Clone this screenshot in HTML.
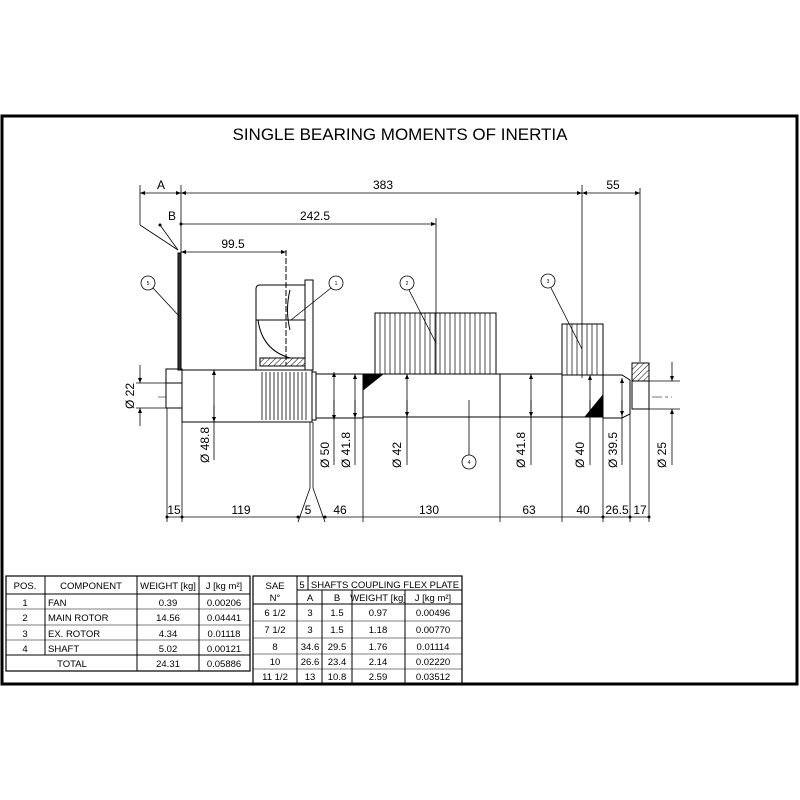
<!DOCTYPE html>
<html><head><meta charset="utf-8"><style>
html,body{margin:0;padding:0;background:#fff}
svg{display:block}
text{font-family:"Liberation Sans","DejaVu Sans",sans-serif;fill:#000}
</style></head><body>
<svg width="800" height="800" viewBox="0 0 800 800" xmlns="http://www.w3.org/2000/svg">
<defs>
<marker id="ar" viewBox="0 0 10 10" refX="10" refY="5" markerWidth="8" markerHeight="5" orient="auto-start-reverse" markerUnits="userSpaceOnUse"><path d="M0,1 L10,5 L0,9z" fill="#000"/></marker>
<pattern id="hat" width="4" height="4" patternUnits="userSpaceOnUse" patternTransform="rotate(45)"><line x1="0" y1="0" x2="0" y2="4" stroke="#000" stroke-width="1"/></pattern>
</defs>
<rect x="2" y="116" width="795" height="568" fill="none" stroke="#000" stroke-width="3"/>
<text x="400" y="140" font-size="17" text-anchor="middle">SINGLE BEARING MOMENTS OF INERTIA</text>

<g stroke="#000" fill="none" stroke-width="1">
<line x1="158" y1="397" x2="672" y2="397" stroke="#777" stroke-dasharray="10,3,3,3"/>
<rect x="166" y="383" width="16" height="25" fill="#fff"/>
<rect x="166" y="369" width="16" height="14" fill="#fff"/>
<rect x="178" y="253" width="3" height="117" fill="#333"/>
<rect x="182" y="370" width="130" height="52" fill="#fff"/>
<g stroke-width="0.8">
<line x1="262" y1="372" x2="262" y2="420"/><line x1="266" y1="372" x2="266" y2="420"/><line x1="270" y1="372" x2="270" y2="420"/><line x1="274" y1="372" x2="274" y2="420"/><line x1="278" y1="372" x2="278" y2="420"/><line x1="282" y1="372" x2="282" y2="420"/><line x1="286" y1="372" x2="286" y2="420"/><line x1="290" y1="372" x2="290" y2="420"/><line x1="294" y1="372" x2="294" y2="420"/><line x1="298" y1="372" x2="298" y2="420"/><line x1="302" y1="372" x2="302" y2="420"/><line x1="306" y1="372" x2="306" y2="420"/>
</g>
<path d="M260,285 L305,285 L305,370 L256,370 L256,289 Q256,285 260,285 Z" fill="#fff"/>
<rect x="305" y="280" width="8" height="90" fill="#fff"/>
<line x1="256" y1="320" x2="305" y2="320"/>
<path d="M258,320 Q262,350 290,358 L305,358" />
<path d="M290,290 Q285,310 290,330"/>
<rect x="260" y="358" width="45" height="8" fill="url(#hat)"/>
<line x1="286" y1="250" x2="286" y2="365" stroke-dasharray="6,2"/>
<rect x="312" y="372" width="4" height="48" fill="#fff"/>
<rect x="316" y="374" width="47" height="44" fill="#fff"/>
<rect x="363" y="374" width="137" height="43" fill="#fff"/>
<path d="M363,374 L383,374 L363,390Z" fill="#000"/>
<rect x="375" y="313" width="121" height="61" fill="#fff"/>
<g stroke-width="0.7">
<line x1="380" y1="313" x2="380" y2="374"/><line x1="385" y1="313" x2="385" y2="374"/><line x1="390" y1="313" x2="390" y2="374"/><line x1="395" y1="313" x2="395" y2="374"/><line x1="400" y1="313" x2="400" y2="374"/><line x1="405" y1="313" x2="405" y2="374"/><line x1="410" y1="313" x2="410" y2="374"/><line x1="415" y1="313" x2="415" y2="374"/><line x1="420" y1="313" x2="420" y2="374"/><line x1="425" y1="313" x2="425" y2="374"/><line x1="430" y1="313" x2="430" y2="374"/><line x1="435" y1="313" x2="435" y2="374"/><line x1="440" y1="313" x2="440" y2="374"/><line x1="445" y1="313" x2="445" y2="374"/><line x1="450" y1="313" x2="450" y2="374"/><line x1="455" y1="313" x2="455" y2="374"/><line x1="460" y1="313" x2="460" y2="374"/><line x1="465" y1="313" x2="465" y2="374"/><line x1="470" y1="313" x2="470" y2="374"/><line x1="475" y1="313" x2="475" y2="374"/><line x1="480" y1="313" x2="480" y2="374"/><line x1="485" y1="313" x2="485" y2="374"/><line x1="490" y1="313" x2="490" y2="374"/>
</g>
<rect x="500" y="374" width="62" height="43" fill="#fff"/>
<rect x="562" y="375" width="41" height="42" fill="#fff"/>
<path d="M603,395 L603,417 L585,417Z" fill="#000"/>
<rect x="562" y="324" width="41" height="51" fill="#fff"/>
<g stroke-width="0.7"><line x1="567" y1="324" x2="567" y2="375"/><line x1="572" y1="324" x2="572" y2="375"/><line x1="577" y1="324" x2="577" y2="375"/><line x1="587" y1="324" x2="587" y2="375"/><line x1="592" y1="324" x2="592" y2="375"/><line x1="597" y1="324" x2="597" y2="375"/></g>
<path d="M603,375 L622,375 L630,380 L630,414 L622,418 L603,418Z" fill="#fff"/>
<rect x="632" y="363" width="17" height="18" fill="url(#hat)"/>
<rect x="632" y="363" width="17" height="18"/>
<rect x="632" y="381" width="17" height="28" fill="#fff"/>
<line x1="181" y1="185" x2="181" y2="253" stroke-width="0.8"/>
<line x1="140" y1="185" x2="140" y2="225" stroke-width="0.8"/>
<line x1="140" y1="225" x2="178" y2="250" stroke-width="0.8"/>
<line x1="160" y1="225" x2="178" y2="250" stroke-width="0.8"/>
<line x1="436" y1="218" x2="436" y2="374" stroke-width="0.8"/>
<line x1="582" y1="185" x2="582" y2="378" stroke-width="0.8"/>
<line x1="640" y1="188" x2="640" y2="362" stroke-width="0.8"/>
<line x1="140" y1="193" x2="181" y2="193" marker-start="url(#ar)" marker-end="url(#ar)" stroke-width="0.8"/>
<line x1="181" y1="193" x2="582" y2="193" marker-start="url(#ar)" marker-end="url(#ar)" stroke-width="0.8"/>
<line x1="582" y1="193" x2="640" y2="193" marker-start="url(#ar)" marker-end="url(#ar)" stroke-width="0.8"/>
<line x1="181" y1="224" x2="436" y2="224" marker-end="url(#ar)" stroke-width="0.8"/>
<line x1="181" y1="252" x2="286" y2="252" marker-start="url(#ar)" marker-end="url(#ar)" stroke-width="0.8"/>
<g stroke-width="0.8">
<circle cx="148" cy="283" r="7" fill="#fff"/><line x1="153" y1="288" x2="179" y2="316"/>
<circle cx="336" cy="283" r="7" fill="#fff"/><line x1="331" y1="288" x2="291" y2="320"/>
<circle cx="407" cy="283" r="7" fill="#fff"/><line x1="409" y1="290" x2="436" y2="343"/>
<circle cx="548" cy="281" r="7" fill="#fff"/><line x1="551" y1="288" x2="582" y2="349"/>
<circle cx="469" cy="462" r="7" fill="#fff"/><line x1="469" y1="455" x2="469" y2="400"/>
</g>
<g stroke-width="0.8">
<line x1="136" y1="383" x2="170" y2="383"/><line x1="136" y1="408" x2="170" y2="408"/>
<line x1="140" y1="365" x2="140" y2="383" marker-end="url(#ar)"/><line x1="140" y1="426" x2="140" y2="408" marker-end="url(#ar)"/>
<line x1="214" y1="370" x2="214" y2="460" marker-start="url(#ar)"/><line x1="214" y1="405" x2="214" y2="422" marker-end="url(#ar)"/>
<line x1="334" y1="372" x2="334" y2="465" marker-start="url(#ar)"/><line x1="334" y1="400" x2="334" y2="420" marker-end="url(#ar)"/>
<line x1="355" y1="374" x2="355" y2="465" marker-start="url(#ar)"/><line x1="355" y1="400" x2="355" y2="418" marker-end="url(#ar)"/>
<line x1="407" y1="374" x2="407" y2="465" marker-start="url(#ar)"/><line x1="407" y1="400" x2="407" y2="417" marker-end="url(#ar)"/>
<line x1="531" y1="374" x2="531" y2="465" marker-start="url(#ar)"/><line x1="531" y1="400" x2="531" y2="417" marker-end="url(#ar)"/>
<line x1="590" y1="375" x2="590" y2="465" marker-start="url(#ar)"/><line x1="590" y1="400" x2="590" y2="417" marker-end="url(#ar)"/>
<line x1="622" y1="378" x2="622" y2="465" marker-start="url(#ar)"/><line x1="622" y1="400" x2="622" y2="416" marker-end="url(#ar)"/>
<line x1="648" y1="381" x2="680" y2="381"/><line x1="648" y1="409" x2="680" y2="409"/>
<line x1="672" y1="362" x2="672" y2="381" marker-end="url(#ar)"/><line x1="672" y1="465" x2="672" y2="409" marker-end="url(#ar)"/>
</g>
<g stroke-width="0.8">
<line x1="167" y1="408" x2="167" y2="522"/><line x1="182" y1="422" x2="182" y2="522"/>
<line x1="310" y1="422" x2="310" y2="488"/><line x1="313" y1="422" x2="313" y2="488"/>
<line x1="310" y1="488" x2="298" y2="522"/><line x1="313" y1="488" x2="325" y2="522"/>
<line x1="363" y1="418" x2="363" y2="522"/><line x1="500" y1="417" x2="500" y2="522"/>
<line x1="562" y1="417" x2="562" y2="522"/><line x1="603" y1="418" x2="603" y2="522"/>
<line x1="630" y1="414" x2="630" y2="522"/><line x1="649" y1="409" x2="649" y2="522"/>
<line x1="167" y1="517" x2="649" y2="517"/>
</g>
</g>
<g fill="#000">
<circle cx="167" cy="517" r="1.5"/><circle cx="182" cy="517" r="1.5"/><circle cx="298" cy="517" r="1.5"/><circle cx="325" cy="517" r="1.5"/><circle cx="603" cy="517" r="1.5"/><circle cx="630" cy="517" r="1.5"/><circle cx="649" cy="517" r="1.5"/>
<circle cx="160" cy="225" r="1.5"/><circle cx="181" cy="224" r="1.5"/>
</g>
<g font-size="12">
<text x="161" y="189" text-anchor="middle">A</text>
<text x="383" y="189" text-anchor="middle">383</text>
<text x="613" y="189" text-anchor="middle">55</text>
<text x="172" y="220" text-anchor="middle">B</text>
<text x="315" y="220" text-anchor="middle">242.5</text>
<text x="233" y="248" text-anchor="middle">99.5</text>
<text x="174" y="514" text-anchor="middle">15</text>
<text x="241" y="514" text-anchor="middle">119</text>
<text x="308" y="514" text-anchor="middle">5</text>
<text x="340" y="514" text-anchor="middle">46</text>
<text x="429" y="514" text-anchor="middle">130</text>
<text x="529" y="514" text-anchor="middle">63</text>
<text x="583" y="514" text-anchor="middle">40</text>
<text x="617" y="514" text-anchor="middle">26.5</text>
<text x="640" y="514" text-anchor="middle">17</text>
<text transform="translate(134,396) rotate(-90)" text-anchor="middle">Ø 22</text>
<text transform="translate(209,445) rotate(-90)" text-anchor="middle">Ø 48.8</text>
<text transform="translate(329,455) rotate(-90)" text-anchor="middle">Ø 50</text>
<text transform="translate(350,450) rotate(-90)" text-anchor="middle">Ø 41.8</text>
<text transform="translate(401,455) rotate(-90)" text-anchor="middle">Ø 42</text>
<text transform="translate(525,450) rotate(-90)" text-anchor="middle">Ø 41.8</text>
<text transform="translate(584,455) rotate(-90)" text-anchor="middle">Ø 40</text>
<text transform="translate(617,450) rotate(-90)" text-anchor="middle">Ø 39.5</text>
<text transform="translate(666,455) rotate(-90)" text-anchor="middle">Ø 25</text>
</g>
<g font-size="5" text-anchor="middle">
<text x="148" y="285">5</text><text x="336" y="285">1</text><text x="407" y="285">2</text><text x="548" y="283">3</text><text x="469" y="464">4</text>
</g>
<g stroke="#000" fill="none">
<rect x="6" y="576" width="244" height="95" stroke-width="1.2"/>
<line x1="6" y1="594" x2="250" y2="594"/><line x1="6" y1="609" x2="250" y2="609" stroke-width="0.6"/><line x1="6" y1="625" x2="250" y2="625" stroke-width="0.6"/><line x1="6" y1="640" x2="250" y2="640" stroke-width="0.6"/><line x1="6" y1="655" x2="250" y2="655"/>
<line x1="45" y1="576" x2="45" y2="655"/><line x1="137" y1="576" x2="137" y2="671"/><line x1="199" y1="576" x2="199" y2="671"/>
<rect x="253" y="576" width="209" height="108" stroke-width="1.2"/>
<line x1="297" y1="576" x2="297" y2="684"/><line x1="308" y1="576" x2="308" y2="590"/>
<line x1="297" y1="590" x2="462" y2="590"/><line x1="253" y1="604" x2="462" y2="604"/>
<line x1="253" y1="621" x2="462" y2="621" stroke-width="0.6"/><line x1="253" y1="638" x2="462" y2="638" stroke-width="0.6"/><line x1="253" y1="654" x2="462" y2="654" stroke-width="0.6"/><line x1="253" y1="669" x2="462" y2="669" stroke-width="0.6"/>
<line x1="322" y1="590" x2="322" y2="684"/><line x1="352" y1="590" x2="352" y2="684"/><line x1="405" y1="590" x2="405" y2="684"/>
</g>
<g font-size="9.5" text-anchor="middle">
<text x="25" y="589">POS.</text><text x="91" y="589">COMPONENT</text><text x="168" y="589">WEIGHT [kg]</text><text x="224" y="589">J [kg m²]</text>
<text x="25" y="606">1</text><text x="25" y="621">2</text><text x="25" y="637">3</text><text x="25" y="652">4</text>
<text x="168" y="606">0.39</text><text x="168" y="621">14.56</text><text x="168" y="637">4.34</text><text x="168" y="652">5.02</text><text x="168" y="667">24.31</text>
<text x="224" y="606">0.00206</text><text x="224" y="621">0.04441</text><text x="224" y="637">0.01118</text><text x="224" y="652">0.00121</text><text x="224" y="667">0.05886</text>
<text x="72" y="667">TOTAL</text>
<text x="275" y="589">SAE</text><text x="275" y="601">N°</text>
<text x="302" y="588">5</text><text x="385" y="588">SHAFTS COUPLING FLEX PLATE</text>
<text x="310" y="601">A</text><text x="337" y="601">B</text><text x="378" y="601">WEIGHT [kg]</text><text x="433" y="601">J [kg m²]</text>
<text x="275" y="616">6 1/2</text><text x="275" y="633">7 1/2</text><text x="275" y="650">8</text><text x="275" y="665">10</text><text x="275" y="680">11 1/2</text>
<text x="310" y="616">3</text><text x="310" y="633">3</text><text x="310" y="650">34.6</text><text x="310" y="665">26.6</text><text x="310" y="680">13</text>
<text x="337" y="616">1.5</text><text x="337" y="633">1.5</text><text x="337" y="650">29.5</text><text x="337" y="665">23.4</text><text x="337" y="680">10.8</text>
<text x="378" y="616">0.97</text><text x="378" y="633">1.18</text><text x="378" y="650">1.76</text><text x="378" y="665">2.14</text><text x="378" y="680">2.59</text>
<text x="433" y="616">0.00496</text><text x="433" y="633">0.00770</text><text x="433" y="650">0.01114</text><text x="433" y="665">0.02220</text><text x="433" y="680">0.03512</text>
</g>
<g font-size="9.5"><text x="48" y="606">FAN</text><text x="48" y="621">MAIN ROTOR</text><text x="48" y="637">EX. ROTOR</text><text x="48" y="652">SHAFT</text></g>
</svg>
</body></html>
